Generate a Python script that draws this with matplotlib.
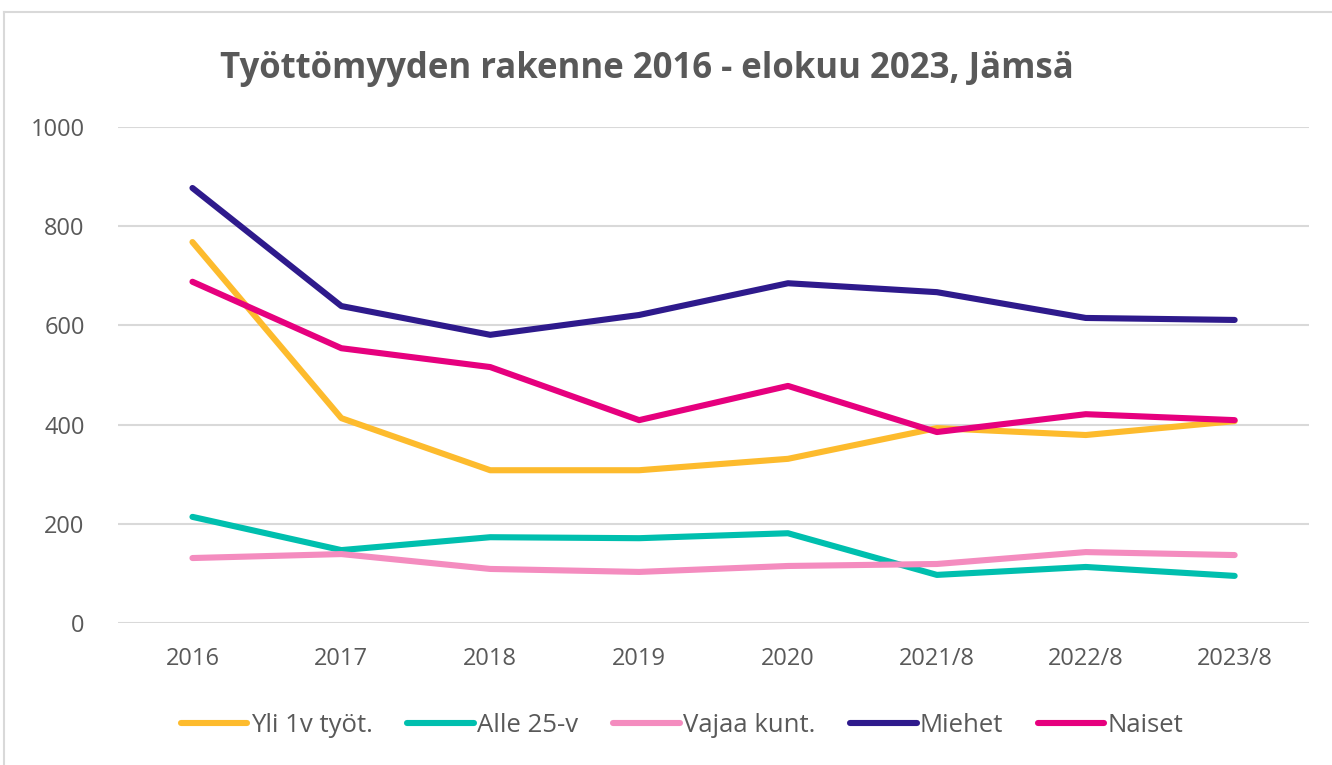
import matplotlib.pyplot as plt
from matplotlib.lines import Line2D

# Data
vuodet = ["2016", "2017", "2018", "2019", "2020", "2021/8", "2022/8", "2023/8"]
yli_1v = [768, 413, 308, 308, 331, 393, 379, 407]
alle_25 = [214, 147, 173, 171, 181, 97, 113, 95]
vajaa_kunt = [131, 139, 109, 103, 115, 119, 143, 137]
miehet = [877, 639, 581, 621, 685, 667, 615, 611]
naiset = [688, 554, 516, 409, 478, 385, 421, 409]

sarjat = [
    ("Yli 1v työt.", yli_1v, "#FDBB2D"),
    ("Alle 25-v", alle_25, "#00BFAE"),
    ("Vajaa kunt.", vajaa_kunt, "#F48CBF"),
    ("Miehet", miehet, "#2E1A8C"),
    ("Naiset", naiset, "#E6007E"),
]

plt.rcParams['font.family'] = ['Open Sans', 'DejaVu Sans']
tekstin_vari = "#595959"

fig = plt.figure(figsize=(13.32, 7.65), dpi=100)
ax = fig.add_axes([0.0886, 0.1856, 0.8942, 0.6484])

x = range(len(vuodet))
for nimi, arvot, vari in sarjat:
    ax.plot(x, arvot, color=vari, linewidth=4.4, label=nimi,
            solid_capstyle="round", solid_joinstyle="round", clip_on=False)

ax.set_xlim(-0.5, len(vuodet) - 0.5)
ax.set_ylim(0, 1000)
ax.set_yticks(range(0, 1001, 200))
ax.set_xticks(list(x))
ax.set_xticklabels(vuodet)
ax.grid(axis="y", color="#D9D9D9", linewidth=1.5)
ax.set_axisbelow(True)
for spine in ax.spines.values():
    spine.set_visible(False)
ax.tick_params(axis="both", length=0, labelsize=17, labelcolor=tekstin_vari)
ax.tick_params(axis="x", pad=17)
ax.tick_params(axis="y", pad=24)

fig.text(0.486, 0.91, "Työttömyyden rakenne 2016 - elokuu 2023, Jämsä",
         ha="center", va="center", fontsize=25, fontweight="bold", color=tekstin_vari)

fig.legend(loc="center", bbox_to_anchor=(0.512, 0.052), ncol=5, frameon=False,
           fontsize=18.5, labelcolor=tekstin_vari, handlelength=2.6,
           handletextpad=0.12, columnspacing=1.35)

# Chart border (cropped on right and bottom)
fig.add_artist(Line2D([4 / 1332, 4 / 1332], [0, 1 - 12 / 765], transform=fig.transFigure,
                      color="#D9D9D9", linewidth=1.5))
fig.add_artist(Line2D([4 / 1332, 1], [1 - 12 / 765, 1 - 12 / 765], transform=fig.transFigure,
                      color="#D9D9D9", linewidth=1.5))

fig.savefig("out.png", dpi=100)
